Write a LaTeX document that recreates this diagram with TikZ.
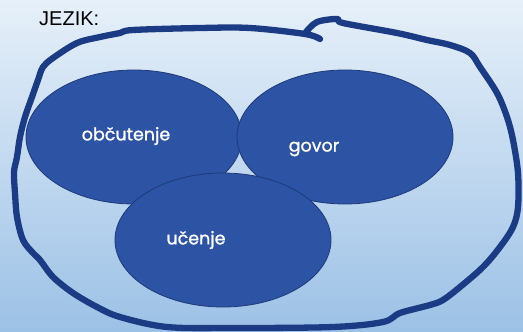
\documentclass[tikz,border=0pt]{standalone}
\usepackage{fontspec}
\newfontfamily\bubblefont[FakeBold=1.2]{Poppins}
\newfontfamily\titlefont{Liberation Sans}
\usetikzlibrary{shapes.geometric,positioning}
\definecolor{bgtop}{RGB}{230,240,249}
\definecolor{bgbottom}{RGB}{156,193,230}
\definecolor{bubblefill}{RGB}{45,83,165}
\definecolor{bubbleline}{RGB}{30,58,120}
\definecolor{penline}{RGB}{27,60,132}
\begin{document}
\begin{tikzpicture}[x=1pt,y=-1pt,
    bubble/.style ={ellipse, draw=bubbleline, line width=0.8pt, fill=bubblefill,
      minimum width=216pt, minimum height=134pt, inner sep=0pt},
    bubble_text/.style ={text=white, inner sep=0pt,
      font=\bubblefont\fontsize{17.5}{17.5}\selectfont},
    title_text/.style ={text=black, inner sep=0pt, anchor=base west,
      font=\titlefont\fontsize{20}{20}\selectfont},
    pen/.style ={draw=penline, line width=6.3pt, line cap=round, line join=round}]
    % background
    \shade[top color=bgtop, bottom color=bgbottom] (0,0) rectangle (523,332);
    \useasboundingbox (0,0) rectangle (523,332);
    \node [title_text] (title) at (39,26) {JEZIK:};
    % the three bubbles
    \node [bubble] (obcutenje) at (134,137) {};
    \node [bubble] (govor) at (345,137) {};
    \node [bubble] (ucenje) at (223,240) {};
    \node [bubble_text] (obcutenje_t) at ([xshift=-8pt,yshift=1pt]obcutenje.center) {občutenje};
    \node [bubble_text] (govor_t) at ([xshift=-31pt,yshift=-12pt]govor.center) {govor};
    \node [bubble_text] (ucenje_t) at ([xshift=-27pt,yshift=0pt]ucenje.center) {učenje};
    % hand drawn outline round everything
    \draw [pen] plot [smooth, tension=0.55] coordinates {
      (320,39) (305,34) (250,28) (200,28) (133,30) (120,33) (100,37) (77,43)
      (53,58) (43,67) (38,80) (32,97) (25,117) (20,137) (17,157) (14,172)
      (15,193) (17,217) (23,240) (33,253) (40,260) (53,277) (73,293) (97,307)
      (120,317) (167,327) (233,328) (333,327) (383,322) (400,313) (430,305)
      (443,300) (460,287) (483,267) (500,247) (513,227) (518,207) (518,173)
      (513,140) (507,117) (497,93) (480,67) (470,53) (450,45) (427,40)
      (397,33) (343,23) (337,19) (317,22) (306,32)};
\end{tikzpicture}
\end{document}
